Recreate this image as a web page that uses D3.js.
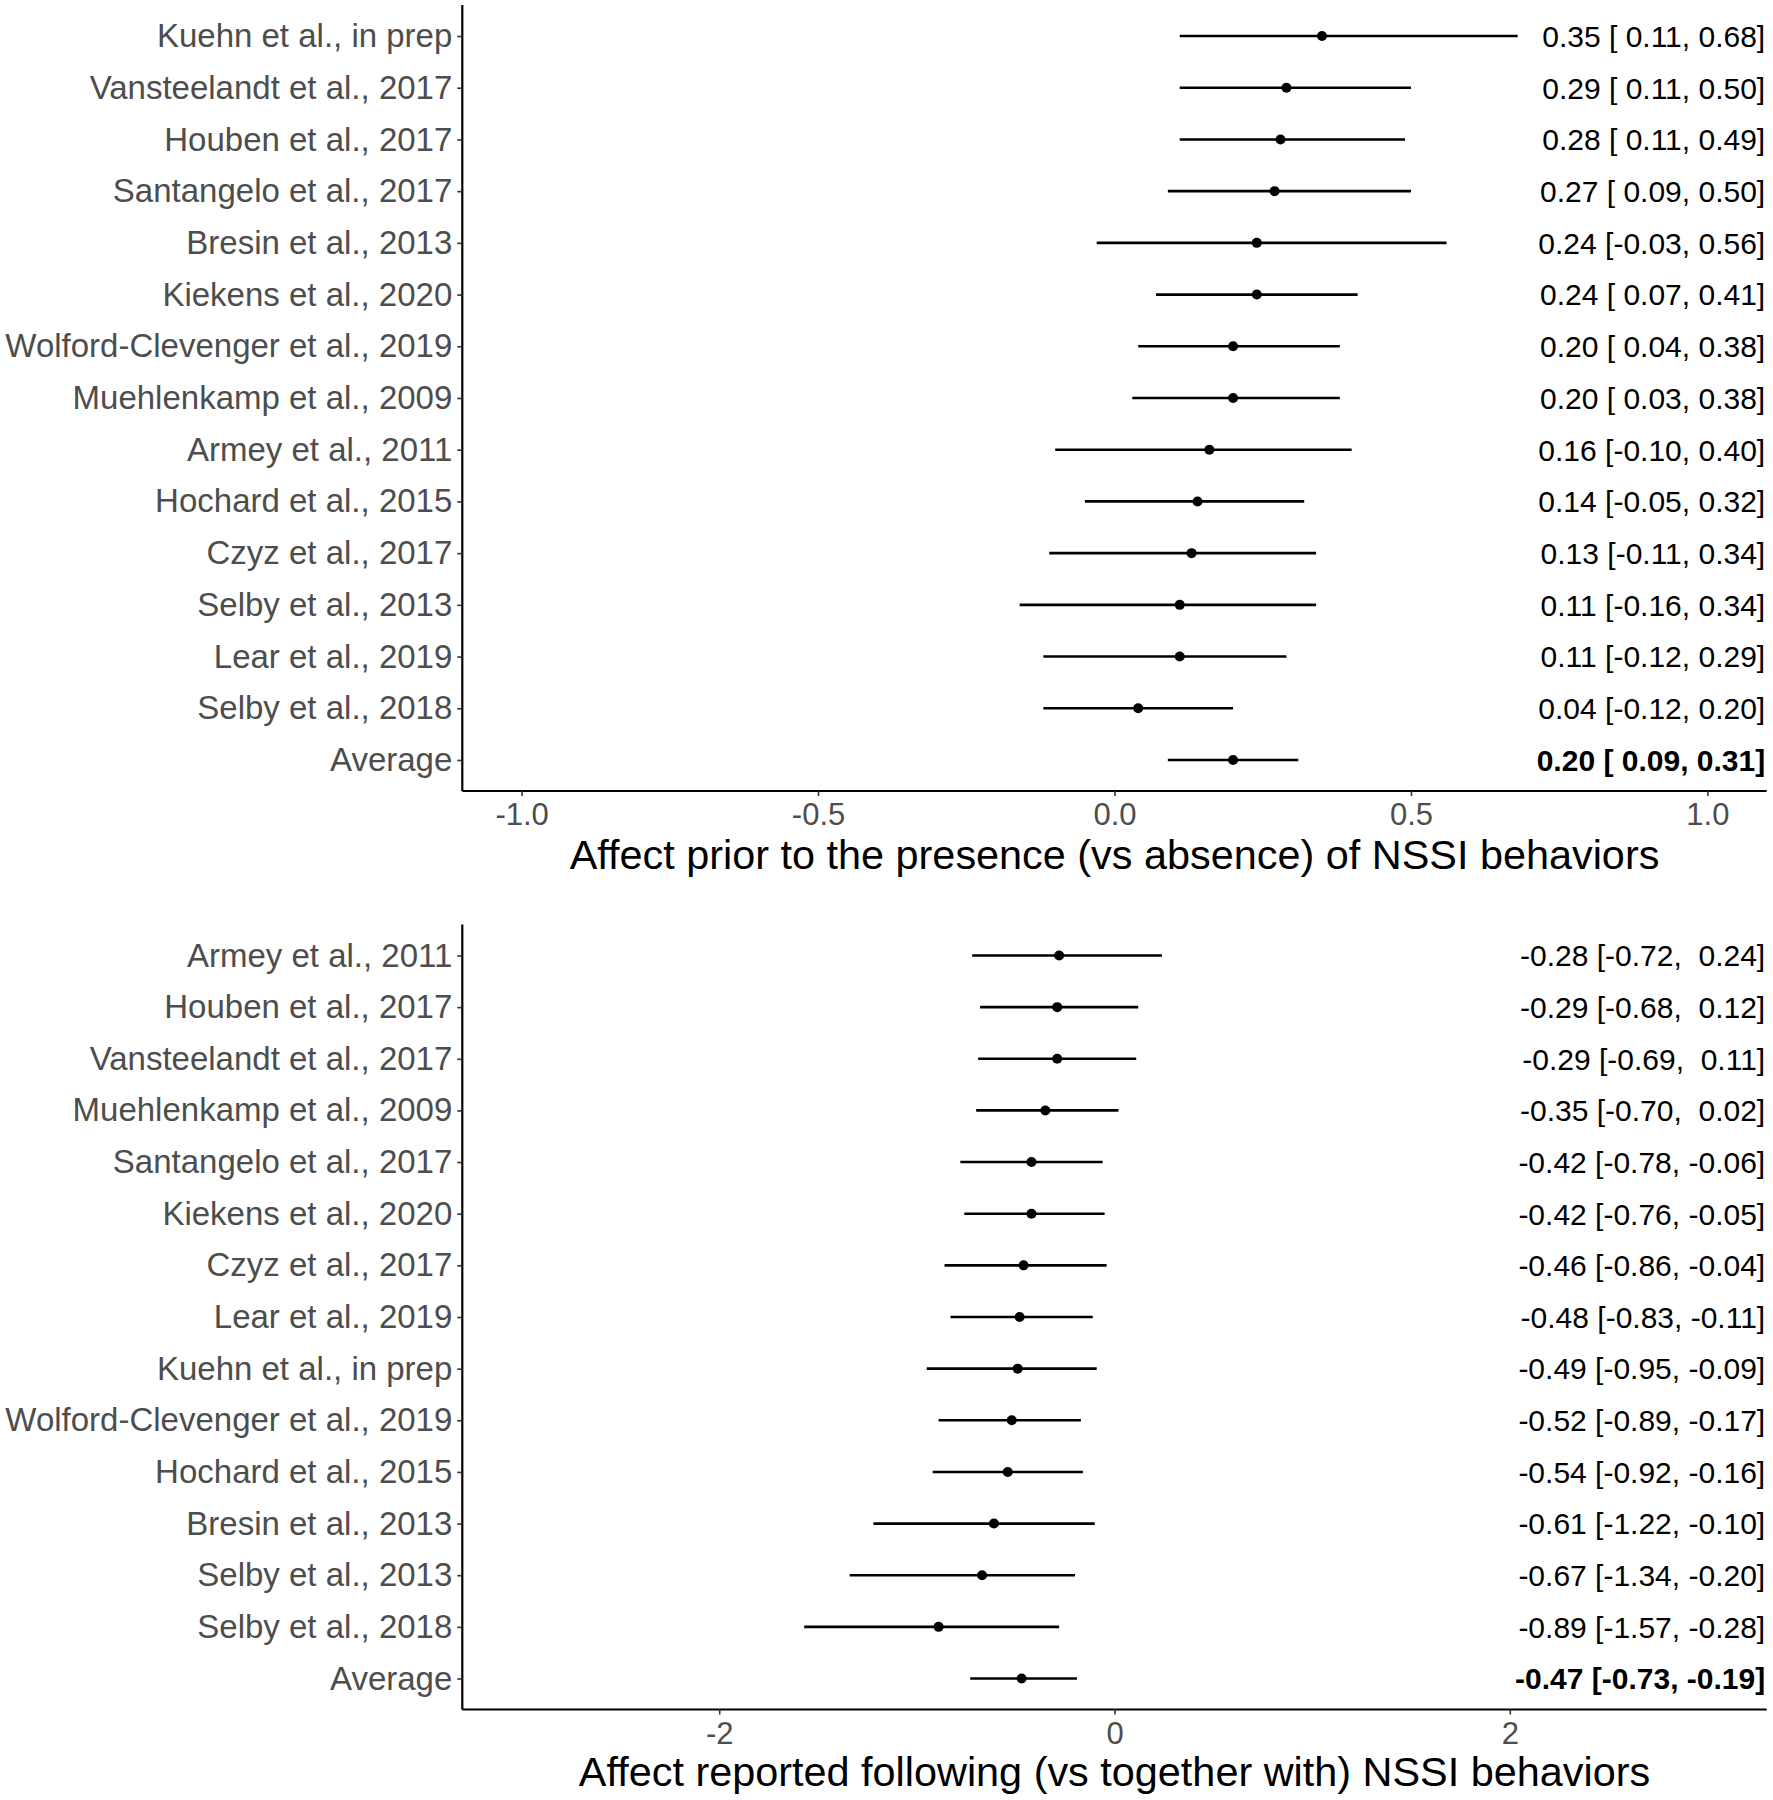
<!DOCTYPE html>
<html>
<head>
<meta charset="utf-8">
<script src="https://cdn.jsdelivr.net/npm/d3@7"></script>
<style>
  html, body { margin: 0; padding: 0; background: #fff; }
  svg text { font-family: "Liberation Sans", Arial, Helvetica, sans-serif; white-space: pre; }
</style>
</head>
<body>
<svg id="chart" width="1773" height="1800"></svg>
<script>
// ---------- DATA ----------
const topStudies = ["Kuehn et al., in prep", "Vansteelandt et al., 2017", "Houben et al., 2017",
  "Santangelo et al., 2017", "Bresin et al., 2013", "Kiekens et al., 2020",
  "Wolford-Clevenger et al., 2019", "Muehlenkamp et al., 2009", "Armey et al., 2011",
  "Hochard et al., 2015", "Czyz et al., 2017", "Selby et al., 2013", "Lear et al., 2019",
  "Selby et al., 2018", "Average"];
const topEst = [0.35, 0.29, 0.28, 0.27, 0.24, 0.24, 0.20, 0.20, 0.16, 0.14, 0.13, 0.11, 0.11, 0.04, 0.20];
const topLo  = [0.11, 0.11, 0.11, 0.09, -0.03, 0.07, 0.04, 0.03, -0.10, -0.05, -0.11, -0.16, -0.12, -0.12, 0.09];
const topHi  = [0.68, 0.50, 0.49, 0.50, 0.56, 0.41, 0.38, 0.38, 0.40, 0.32, 0.34, 0.34, 0.29, 0.20, 0.31];
const topTicks = [-1.0, -0.5, 0.0, 0.5, 1.0];
const topDomain = [-1.1, 1.1];
const topTitle = "Affect prior to the presence (vs absence) of NSSI behaviors";

const botStudies = ["Armey et al., 2011", "Houben et al., 2017", "Vansteelandt et al., 2017",
  "Muehlenkamp et al., 2009", "Santangelo et al., 2017", "Kiekens et al., 2020",
  "Czyz et al., 2017", "Lear et al., 2019", "Kuehn et al., in prep",
  "Wolford-Clevenger et al., 2019", "Hochard et al., 2015", "Bresin et al., 2013",
  "Selby et al., 2013", "Selby et al., 2018", "Average"];
const botEst = [-0.28, -0.29, -0.29, -0.35, -0.42, -0.42, -0.46, -0.48, -0.49, -0.52, -0.54, -0.61, -0.67, -0.89, -0.47];
const botLo  = [-0.72, -0.68, -0.69, -0.70, -0.78, -0.76, -0.86, -0.83, -0.95, -0.89, -0.92, -1.22, -1.34, -1.57, -0.73];
const botHi  = [0.24, 0.12, 0.11, 0.02, -0.06, -0.05, -0.04, -0.11, -0.09, -0.17, -0.16, -0.10, -0.20, -0.28, -0.19];
const botTicks = [-2, 0, 2];
const botDomain = [-3.3, 3.3];
const botTitle = "Affect reported following (vs together with) NSSI behaviors";

// ---------- DRAW ----------
const svg = d3.select("#chart");
const left = 462.3, right = 1766.7;
const hyphenLocale = d3.formatLocale({decimal: ".", thousands: ",", grouping: [3], currency: ["", ""], minus: "-"});

// pad each column to a common width, as formatC(width=) does
function columnFormatter(values) {
  const strs = values.map(v => v.toFixed(2));
  const w = d3.max(strs, s => s.length);
  return i => strs[i].padStart(w, " ");
}

function panel(cfg) {
  const x = d3.scaleLinear().domain(cfg.domain).range([left, right]);
  const y = d3.scalePoint().domain(cfg.studies).range([cfg.top, cfg.bottom]).padding(0.6);
  const g = svg.append("g");
  const fEst = columnFormatter(cfg.est), fLo = columnFormatter(cfg.lo), fHi = columnFormatter(cfg.hi);
  const rows = cfg.studies.map((s, i) => ({s, i, est: cfg.est[i], lo: cfg.lo[i], hi: cfg.hi[i]}));

  // error bars
  g.selectAll("line.ci").data(rows).join("line")
    .attr("x1", d => x(d.lo)).attr("x2", d => x(d.hi))
    .attr("y1", d => y(d.s)).attr("y2", d => y(d.s))
    .attr("stroke", "#000").attr("stroke-width", 2.6);
  g.selectAll("circle.pt").data(rows).join("circle")
    .attr("cx", d => x(d.est)).attr("cy", d => y(d.s)).attr("r", 5)
    .attr("fill", "#000");

  // right-hand labels
  g.selectAll("text.lab").data(rows).join("text")
    .attr("x", right - 1.5).attr("y", d => y(d.s)).attr("dy", "0.36em")
    .attr("text-anchor", "end")
    .attr("font-size", 30)
    .attr("font-weight", d => d.s === "Average" ? "bold" : "normal")
    .attr("fill", "#000")
    .text(d => `${fEst(d.i).trim()} [${fLo(d.i)}, ${fHi(d.i)}]`);

  // y axis
  const yAxis = g.append("g").attr("transform", `translate(${left},0)`)
    .call(d3.axisLeft(y).tickSize(5).tickPadding(5));
  yAxis.select(".domain").attr("d", `M0,${cfg.top}V${cfg.bottom}`).attr("stroke", "#000").attr("stroke-width", 2.2);
  yAxis.selectAll(".tick line").attr("stroke", "#333").attr("stroke-width", 1.6);
  yAxis.selectAll(".tick text").attr("font-size", 33).attr("fill", "#4D4D4D")
    .attr("font-family", "'Liberation Sans', Arial, sans-serif");

  // x axis
  const xAxis = g.append("g").attr("transform", `translate(0,${cfg.bottom})`)
    .call(d3.axisBottom(x).tickValues(cfg.ticks).tickFormat(hyphenLocale.format(cfg.fmt)).tickSize(5).tickPadding(7));
  xAxis.select(".domain").attr("d", `M${left},0H${right}`).attr("stroke", "#000").attr("stroke-width", 2.2);
  xAxis.selectAll(".tick line").attr("stroke", "#333").attr("stroke-width", 1.6);
  xAxis.selectAll(".tick text").attr("font-size", 31).attr("fill", "#4D4D4D")
    .attr("font-family", "'Liberation Sans', Arial, sans-serif");

  // title
  svg.append("text").attr("x", (left + right) / 2).attr("y", cfg.titleY)
    .attr("text-anchor", "middle").attr("font-size", 41.4).attr("fill", "#000")
    .text(cfg.title);
}

panel({studies: topStudies, est: topEst, lo: topLo, hi: topHi, domain: topDomain,
  ticks: topTicks, fmt: ".1f", title: topTitle, top: 5, bottom: 791, titleY: 869});
panel({studies: botStudies, est: botEst, lo: botLo, hi: botHi, domain: botDomain,
  ticks: botTicks, fmt: "d", title: botTitle, top: 924.5, bottom: 1709.5, titleY: 1786});
</script>
</body>
</html>
